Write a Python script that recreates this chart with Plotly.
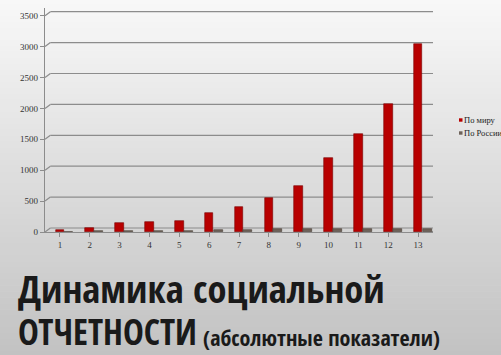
import plotly.graph_objects as go

categories = [str(i) for i in range(1, 14)]
world = [30, 60, 140, 160, 180, 300, 400, 550, 750, 1190, 1580, 2070, 3050]
russia = [8, 10, 10, 12, 20, 40, 40, 45, 45, 45, 45, 55, 55]
series_names = ["По миру", "По России"]
series_colors = ["#b80000", "#6e6259"]
y_ticks = [0, 500, 1000, 1500, 2000, 2500, 3000, 3500]
title_line1 = "Динамика социальной"
title_line2 = "отчетности"
subtitle = "(абсолютные показатели)"

W, H = 501, 355
PL, PR, PT, PB = 45, 433, 8, 232   # plot area in pixels
pw, ph = PR - PL, PB - PT


def px(x):
    return (x - PL) / pw


def py(y):
    return (PB - y) / ph


fig = go.Figure()
fig.add_trace(go.Bar(
    x=list(range(13)), y=world, name=series_names[0], showlegend=False,
    width=0.29, offset=-0.145,
    marker=dict(color=series_colors[0], line=dict(color="#7a0000", width=0.6)),
))
fig.add_trace(go.Bar(
    x=list(range(13)), y=russia, name=series_names[1], showlegend=False,
    width=0.3, offset=0.15,
    marker=dict(color=series_colors[1], line=dict(color="#4a4038", width=0.6)),
))

# background gradient bands
shapes = []
n = 60
top_c = (248, 248, 248)
bot_c = (194, 194, 194)
for i in range(n):
    t = i / (n - 1)
    c = tuple(int(round(top_c[k] + (bot_c[k] - top_c[k]) * t)) for k in range(3))
    y1 = py(-2 + i * (H + 4) / n)
    y0 = py(-2 + (i + 1) * (H + 4) / n) - 0.003
    shapes.append(dict(type="rect", xref="paper", yref="paper",
                       x0=px(-5), x1=px(W + 5), y0=y0, y1=y1,
                       fillcolor="rgb(%d,%d,%d)" % c, line=dict(width=0), layer="below"))

# pseudo-3D back-wall gridlines
dy = 65
for v in y_ticks:
    shapes.append(dict(type="line", xref="x", yref="y", x0=-0.5, x1=-0.32, y0=v, y1=v + dy,
                       line=dict(color="#8c8c8c", width=1.2), layer="below"))
    shapes.append(dict(type="line", xref="x", yref="y", x0=-0.32, x1=12.75, y0=v + dy, y1=v + dy,
                       line=dict(color="#8c8c8c", width=1.2), layer="below"))
shapes.append(dict(type="line", xref="x", yref="y", x0=12.45, x1=12.75, y0=0, y1=dy,
                   line=dict(color="#8c8c8c", width=1), layer="below"))

# legend swatches
for i, col in enumerate(series_colors):
    shapes.append(dict(type="rect", xref="paper", yref="paper",
                       x0=px(459), x1=px(462.5), y0=py(121.7 + i * 13), y1=py(118.3 + i * 13),
                       fillcolor=col, line=dict(width=0)))
fig.update_layout(shapes=shapes)

fig.update_layout(
    width=W, height=H,
    margin=dict(l=PL, r=W - PR, t=PT, b=H - PB),
    paper_bgcolor="#e4e4e4", plot_bgcolor="rgba(0,0,0,0)",
    barmode="overlay", bargap=0, showlegend=False,
    font=dict(family="Liberation Serif", size=9, color="#333333"),
    xaxis=dict(range=[-0.5, 12.5], tickvals=list(range(13)), ticktext=categories,
               showgrid=False, zeroline=False, showline=True, linecolor="#8c8c8c", linewidth=1,
               ticks="outside", ticklen=4, tickcolor="#8c8c8c",
               tickfont=dict(family="Liberation Serif", size=9, color="#333333"), fixedrange=True),
    yaxis=dict(range=[0, 3625], tickvals=y_ticks, showgrid=False, zeroline=False,
               showline=True, linecolor="#8c8c8c", linewidth=1.2,
               ticks="outside", ticklen=4, tickcolor="#8c8c8c",
               tickfont=dict(family="Liberation Serif", size=9, color="#333333"), fixedrange=True),
)

# legend labels
for i, name in enumerate(series_names):
    fig.add_annotation(
        text=name, xref="paper", yref="paper", x=px(462), y=py(120 + i * 13),
        xanchor="left", yanchor="middle", showarrow=False,
        font=dict(family="Liberation Serif", size=8.5, color="#222222"))

title_font = "Open Sans Condensed, Roboto Condensed, sans-serif"
fig.add_annotation(text="<b>%s</b>" % title_line1, xref="paper", yref="paper",
                   x=px(16), y=py(288), xanchor="left", yanchor="middle",
                   showarrow=False, font=dict(family=title_font, size=38.5, color="#1a1a1a"))
fig.add_annotation(text="<b>%s</b>" % title_line2.upper(), xref="paper", yref="paper",
                   x=px(16), y=py(331.5), xanchor="left", yanchor="middle",
                   showarrow=False, font=dict(family=title_font, size=35, color="#1a1a1a"))
fig.add_annotation(text="<b>%s</b>" % subtitle, xref="paper", yref="paper",
                   x=px(201), y=py(336.5), xanchor="left", yanchor="middle",
                   showarrow=False, font=dict(family=title_font, size=22, color="#1a1a1a"))

fig.write_html("out.html")
